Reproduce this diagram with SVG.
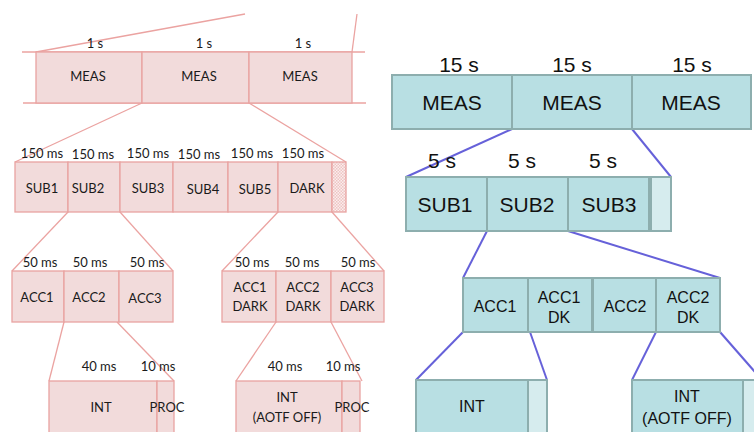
<svg xmlns="http://www.w3.org/2000/svg" width="754" height="432" viewBox="0 0 754 432">
<defs>
<pattern id="hatch" width="3" height="3" patternUnits="userSpaceOnUse">
<rect width="3" height="3" fill="#fbeeee"/>
<rect width="1.5" height="1.5" fill="#eec4c3"/>
<rect x="1.5" y="1.5" width="1.5" height="1.5" fill="#eec4c3"/>
</pattern>
<style>
.p{fill:#f2dbdb;stroke:#e9a3a1;stroke-width:1.3}
.ph{fill:url(#hatch);stroke:#e9a3a1;stroke-width:1.3}
.pl{stroke:#eba3a1;stroke-width:1.3;fill:none}
.t{fill:#b8dfe3;stroke:#8daeae;stroke-width:2}
.tl{fill:#d6ecee;stroke:#8daeae;stroke-width:2}
.bl{stroke:#6661d9;stroke-width:2;fill:none}
.lt{font-family:Lato,"Liberation Sans",Arial,sans-serif;font-size:13px;fill:#1a1a1a;text-anchor:middle}
.lm{font-family:Lato,"Liberation Sans",Arial,sans-serif;font-size:13px;fill:#1a1a1a;text-anchor:middle}
.rt{font-family:"Liberation Sans",Arial,sans-serif;font-size:21px;fill:#111;text-anchor:middle}
.rs{font-family:"Liberation Sans",Arial,sans-serif;font-size:16px;fill:#111;text-anchor:middle}
</style>
</defs>
<rect width="754" height="432" fill="#fff"/>

<g id="connectors">
<line class="pl" x1="22" y1="52" x2="365" y2="52"/>
<line class="pl" x1="23" y1="103" x2="366" y2="103"/>
<line class="pl" x1="36" y1="52" x2="245" y2="14"/>
<line class="pl" x1="352" y1="52" x2="357" y2="14"/>
<line class="pl" x1="142" y1="103" x2="15" y2="162"/>
<line class="pl" x1="249" y1="103" x2="346" y2="162"/>
<line class="pl" x1="68" y1="212" x2="12" y2="271"/>
<line class="pl" x1="120" y1="212" x2="173" y2="271"/>
<line class="pl" x1="278" y1="212" x2="222" y2="271"/>
<line class="pl" x1="332" y1="212" x2="384" y2="271"/>
<line class="pl" x1="64" y1="322" x2="49" y2="381"/>
<line class="pl" x1="117" y1="322" x2="174" y2="381"/>
<line class="pl" x1="276" y1="322" x2="236" y2="381"/>
<line class="pl" x1="331" y1="322" x2="362" y2="381"/>
<line class="bl" x1="512" y1="129" x2="406" y2="177"/>
<line class="bl" x1="632" y1="129" x2="671" y2="177"/>
<line class="bl" x1="487" y1="231" x2="463" y2="278"/>
<line class="bl" x1="568" y1="231" x2="720" y2="278"/>
<line class="bl" x1="463" y1="332" x2="416" y2="380"/>
<line class="bl" x1="530" y1="332" x2="547" y2="380"/>
<line class="bl" x1="656" y1="332" x2="632" y2="380"/>
<line class="bl" x1="720" y1="332" x2="762" y2="380"/>
</g>

<g id="left-meas">
<rect class="p" x="36" y="52" width="106" height="51"/>
<rect class="p" x="142" y="52" width="107" height="51"/>
<rect class="p" x="249" y="52" width="103" height="51"/>
<text class="lm" x="95" y="48">1 s</text>
<text class="lm" x="204" y="48">1 s</text>
<text class="lm" x="303" y="48">1 s</text>
<text class="lt" x="88" y="81">MEAS</text>
<text class="lt" x="199" y="81">MEAS</text>
<text class="lt" x="300" y="81">MEAS</text>
</g>

<g id="left-sub">
<rect class="p" x="15" y="162" width="53" height="50"/>
<rect class="p" x="68" y="162" width="52" height="50"/>
<rect class="p" x="120" y="162" width="53" height="50"/>
<rect class="p" x="173" y="162" width="55" height="50"/>
<rect class="p" x="228" y="162" width="50" height="50"/>
<rect class="p" x="278" y="162" width="54" height="50"/>
<rect class="ph" x="332" y="162" width="14" height="50"/>
<text class="lm" x="42" y="158">150 ms</text>
<text class="lm" x="93" y="159">150 ms</text>
<text class="lm" x="148" y="158">150 ms</text>
<text class="lm" x="199" y="159">150 ms</text>
<text class="lm" x="252" y="158">150 ms</text>
<text class="lm" x="303" y="158">150 ms</text>
<text class="lt" x="42" y="193">SUB1</text>
<text class="lt" x="88" y="193">SUB2</text>
<text class="lt" x="148" y="193">SUB3</text>
<text class="lt" x="203" y="194">SUB4</text>
<text class="lt" x="255" y="194">SUB5</text>
<text class="lt" x="307" y="193">DARK</text>
</g>

<g id="left-acc">
<rect class="p" x="12" y="271" width="52" height="51"/>
<rect class="p" x="64" y="271" width="55" height="51"/>
<rect class="p" x="119" y="271" width="54" height="51"/>
<text class="lm" x="40" y="267">50 ms</text>
<text class="lm" x="90" y="267">50 ms</text>
<text class="lm" x="147" y="267">50 ms</text>
<text class="lt" x="37" y="302">ACC1</text>
<text class="lt" x="89" y="302">ACC2</text>
<text class="lt" x="145" y="303">ACC3</text>
</g>

<g id="left-acc-dark">
<rect class="p" x="222" y="271" width="54" height="51"/>
<rect class="p" x="276" y="271" width="55" height="51"/>
<rect class="p" x="331" y="271" width="53" height="51"/>
<text class="lm" x="252" y="267">50 ms</text>
<text class="lm" x="302" y="267">50 ms</text>
<text class="lm" x="358" y="267">50 ms</text>
<text class="lt" x="250" y="292">ACC1</text>
<text class="lt" x="250" y="311">DARK</text>
<text class="lt" x="303" y="292">ACC2</text>
<text class="lt" x="303" y="311">DARK</text>
<text class="lt" x="357" y="292">ACC3</text>
<text class="lt" x="357" y="311">DARK</text>
</g>

<g id="left-int">
<rect class="p" x="49" y="381" width="108" height="60"/>
<rect class="p" x="157" y="381" width="17" height="60"/>
<text class="lm" x="99" y="371">40 ms</text>
<text class="lm" x="158" y="371">10 ms</text>
<text class="lt" x="101" y="412">INT</text>
<text class="lt" x="167" y="412">PROC</text>
</g>

<g id="left-int-dark">
<rect class="p" x="236" y="381" width="106" height="60"/>
<rect class="p" x="342" y="381" width="18" height="60"/>
<text class="lm" x="285" y="371">40 ms</text>
<text class="lm" x="343" y="371">10 ms</text>
<text class="lt" x="287" y="402">INT</text>
<text class="lt" x="287" y="422">(AOTF OFF)</text>
<text class="lt" x="352" y="412">PROC</text>
</g>

<g id="right-meas">
<rect class="t" x="392" y="75" width="120" height="54"/>
<rect class="t" x="512" y="75" width="120" height="54"/>
<rect class="t" x="632" y="75" width="119" height="54"/>
<text class="rt" x="459" y="72">15 s</text>
<text class="rt" x="572" y="72">15 s</text>
<text class="rt" x="692" y="72">15 s</text>
<text class="rt" x="452" y="110">MEAS</text>
<text class="rt" x="572" y="110">MEAS</text>
<text class="rt" x="691" y="110">MEAS</text>
</g>

<g id="right-sub">
<rect class="t" x="406" y="177" width="81" height="54"/>
<rect class="t" x="487" y="177" width="81" height="54"/>
<rect class="t" x="568" y="177" width="81" height="54"/>
<rect class="tl" x="651" y="177" width="20" height="54"/>
<text class="rt" x="442" y="168">5 s</text>
<text class="rt" x="522" y="168">5 s</text>
<text class="rt" x="603" y="168">5 s</text>
<text class="rt" x="445" y="212">SUB1</text>
<text class="rt" x="527" y="212">SUB2</text>
<text class="rt" x="609" y="212">SUB3</text>
</g>

<g id="right-acc1">
<rect class="t" x="463" y="278" width="65" height="54"/>
<rect class="t" x="528" y="278" width="64" height="54"/>
<text class="rs" x="495" y="312">ACC1</text>
<text class="rs" x="559" y="303">ACC1</text>
<text class="rs" x="559" y="323">DK</text>
</g>

<g id="right-acc2">
<rect class="t" x="593" y="278" width="63" height="54"/>
<rect class="t" x="656" y="278" width="64" height="54"/>
<text class="rs" x="625" y="312">ACC2</text>
<text class="rs" x="688" y="303">ACC2</text>
<text class="rs" x="688" y="323">DK</text>
</g>

<g id="right-int">
<rect class="t" x="416" y="380" width="112" height="60"/>
<rect class="tl" x="528" y="380" width="19" height="60"/>
<text class="rs" x="472" y="412">INT</text>
</g>

<g id="right-int-dark">
<rect class="t" x="632" y="380" width="111" height="60"/>
<rect class="tl" x="743" y="380" width="20" height="60"/>
<text class="rs" x="687" y="402">INT</text>
<text class="rs" x="687" y="424">(AOTF OFF)</text>
</g>
</svg>
